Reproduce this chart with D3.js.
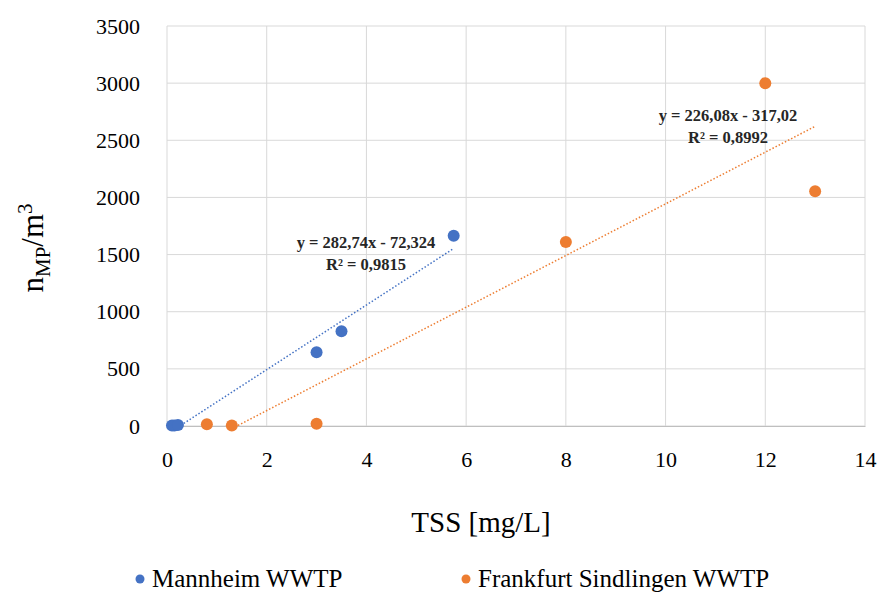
<!DOCTYPE html>
<html><head><meta charset="utf-8">
<script src="https://cdn.jsdelivr.net/npm/d3@7"></script>
<style>body{margin:0;background:#fff}svg{display:block}</style>
</head><body>
<script>
const xTicks = [0,2,4,6,8,10,12,14];
const yTicks = [0,500,1000,1500,2000,2500,3000,3500];
const mannheimX = [0.1, 0.15, 0.22, 3, 3.5, 5.75];
const mannheimY = [5, 5, 8, 645, 830, 1665];
const frankfurtX = [0.8, 1.3, 3, 8, 12, 13];
const frankfurtY = [15, 5, 20, 1610, 3000, 2055];
const seriesNames = ["Mannheim WWTP", "Frankfurt Sindlingen WWTP"];
const colors = ["#4472C4", "#ED7D31"];
const trendM = {slope: 282.74, intercept: -72.324, eq: "y = 282,74x - 72,324", r2: "R² = 0,9815"};
const trendF = {slope: 226.08, intercept: -317.02, eq: "y = 226,08x - 317,02", r2: "R² = 0,8992"};

const W = 884, H = 592;
const m = {left:167, right:19, top:26, bottom:166};
const svg = d3.select("body").append("svg").attr("width", W).attr("height", H);
const x = d3.scaleLinear().domain([0,14]).range([m.left, W - m.right]);
const y = d3.scaleLinear().domain([0,3500]).range([H - m.bottom, m.top]);
const font = "'Liberation Serif', 'DejaVu Serif', serif";

svg.append("defs").append("clipPath").attr("id","plot").append("rect")
  .attr("x", x(0)).attr("y", y(3500)).attr("width", x(14)-x(0)).attr("height", y(0)-y(3500));

// grid
svg.append("g").selectAll("line").data(yTicks).join("line")
  .attr("x1", x(0)).attr("x2", x(14)).attr("y1", d=>y(d)).attr("y2", d=>y(d))
  .attr("stroke", "#d9d9d9").attr("stroke-width", 1);
svg.append("g").selectAll("line").data(xTicks).join("line")
  .attr("y1", y(0)).attr("y2", y(3500)).attr("x1", d=>x(d)).attr("x2", d=>x(d))
  .attr("stroke", "#d9d9d9").attr("stroke-width", 1);

// axes
const xAxis = svg.append("g").attr("transform", `translate(0,${y(0)})`)
  .call(d3.axisBottom(x).tickValues(xTicks).tickFormat(d3.format("d")).tickSize(0).tickPadding(25));
xAxis.select(".domain").attr("stroke", "#bfbfbf");
xAxis.selectAll("text").attr("font-family", font).attr("font-size", 22).attr("fill", "#000");
const yAxis = svg.append("g").attr("transform", `translate(${x(0)},0)`)
  .call(d3.axisLeft(y).tickValues(yTicks).tickFormat(d3.format("d")).tickSize(0).tickPadding(27));
yAxis.select(".domain").remove();
yAxis.selectAll("text").attr("font-family", font).attr("font-size", 22).attr("fill", "#000");

// trendlines
function trend(t, xs, color){
  const x0 = d3.min(xs), x1 = d3.max(xs);
  svg.append("line").attr("clip-path","url(#plot)")
    .attr("x1", x(x0)).attr("y1", y(t.slope*x0 + t.intercept))
    .attr("x2", x(x1)).attr("y2", y(t.slope*x1 + t.intercept))
    .attr("stroke", color).attr("stroke-width", 1.5).attr("stroke-dasharray", "1.5,2");
}
trend(trendM, mannheimX, colors[0]);
trend(trendF, frankfurtX, colors[1]);

// points
function pts(xs, ys, color){
  svg.append("g").selectAll("circle").data(xs.map((d,i)=>[d, ys[i]])).join("circle")
    .attr("cx", d=>x(d[0])).attr("cy", d=>y(d[1])).attr("r", 6).attr("fill", color);
}
pts(mannheimX, mannheimY, colors[0]);
pts(frankfurtX, frankfurtY, colors[1]);

// trend labels
function lbl(t, cx, cy){
  const g = svg.append("g").attr("font-family", font).attr("font-size", 16.5).attr("font-weight", "bold")
    .attr("text-anchor", "middle").attr("fill", "#262626");
  g.append("text").attr("x", cx).attr("y", cy).text(t.eq);
  g.append("text").attr("x", cx).attr("y", cy + 22).text(t.r2);
}
lbl(trendM, 366, 248);
lbl(trendF, 728, 121);

// axis titles
svg.append("text").attr("x", 481).attr("y", 532).attr("text-anchor","middle")
  .attr("font-family", font).attr("font-size", 29).attr("fill","#000").text("TSS [mg/L]");
const yt = svg.append("text").attr("transform", "translate(43,248) rotate(-90)").attr("text-anchor","middle")
  .attr("font-family", font).attr("font-size", 31).attr("fill","#000");
yt.append("tspan").text("n");
yt.append("tspan").attr("font-size", 21).attr("dy", 7).text("MP");
yt.append("tspan").attr("dy", -7).text("/m");
yt.append("tspan").attr("font-size", 21).attr("dy", -11).text("3");

// legend
const lx = [140, 466];
seriesNames.forEach((n,i)=>{
  svg.append("circle").attr("cx", lx[i]).attr("cy", 579).attr("r", 4.5).attr("fill", colors[i]);
  svg.append("text").attr("x", lx[i]+12).attr("y", 587).attr("font-family", font).attr("font-size", 25)
    .attr("fill","#000").text(n);
});
</script>
</body></html>
